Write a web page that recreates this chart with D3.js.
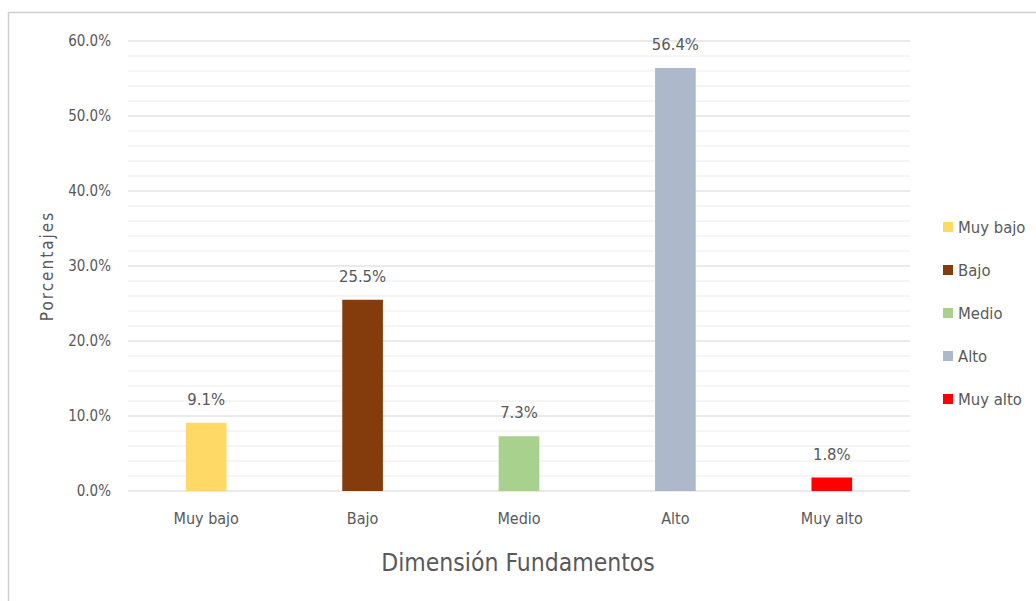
<!DOCTYPE html>
<html><head><meta charset="utf-8">
<script src="https://cdn.jsdelivr.net/npm/d3@7"></script>
<style>body{margin:0;background:#fff;}text{font-family:"DejaVu Sans Condensed","Liberation Sans",sans-serif;}</style>
</head><body>
<script>
const categories = ["Muy bajo","Bajo","Medio","Alto","Muy alto"];
const values = [9.1, 25.5, 7.3, 56.4, 1.8];
const valueLabels = ["9.1%","25.5%","7.3%","56.4%","1.8%"];
const colors = ["#FFD966","#843C0C","#A9D18E","#ADB9CA","#FF0000"];
const yTicks = [0,10,20,30,40,50,60];
const yTickLabels = ["0.0%","10.0%","20.0%","30.0%","40.0%","50.0%","60.0%"];
const minorTicks = d3.range(0, 61, 2);
const xTitle = "Dimensión Fundamentos";
const yTitle = "Porcentajes";

const W = 1036, H = 601;
const svg = d3.select("body").append("svg").attr("width", W).attr("height", H);
// outer frame (top & left visible)
svg.append("line").attr("x1",8.5).attr("x2",8.5).attr("y1",12).attr("y2",H).attr("stroke","#d0d0d0").attr("stroke-width",1.5);
svg.append("line").attr("x1",8).attr("x2",W).attr("y1",12.5).attr("y2",12.5).attr("stroke","#d0d0d0").attr("stroke-width",1.5);

const x = d3.scaleBand().domain(categories).range([128, 910]).paddingInner(0.74).paddingOuter(0.37);
const y = d3.scaleLinear().domain([0, 60]).range([491, 41]);

const g = svg.append("g");
// minor grid
g.selectAll("line.minor").data(minorTicks.filter(d => d % 10 !== 0)).join("line")
  .attr("x1",128).attr("x2",910).attr("y1",d=>y(d)).attr("y2",d=>y(d))
  .attr("stroke","#ececec").attr("stroke-width",1);
// major grid
g.selectAll("line.major").data(yTicks).join("line")
  .attr("x1",128).attr("x2",910).attr("y1",d=>y(d)).attr("y2",d=>y(d))
  .attr("stroke","#d6d6d6").attr("stroke-width",1.2);

// y axis labels via d3 axis
const yAxis = d3.axisLeft(y).tickValues(yTicks).tickFormat((d,i)=>yTickLabels[i]).tickSize(0).tickPadding(0);
const ya = svg.append("g").attr("transform","translate(111,0)").call(yAxis);
ya.select(".domain").remove();
ya.selectAll("text").attr("fill","#595959").style("font-size","15px");

// bars
g.selectAll("rect.bar").data(values).join("rect")
  .attr("x",(d,i)=>x(categories[i])).attr("width",x.bandwidth())
  .attr("y",d=>y(d)).attr("height",d=>y(0)-y(d))
  .attr("fill",(d,i)=>colors[i]);
// value labels
g.selectAll("text.val").data(values).join("text")
  .attr("x",(d,i)=>x(categories[i])+x.bandwidth()/2).attr("y",d=>y(d)-18)
  .attr("text-anchor","middle").attr("fill","#595959").style("font-size","16.5px")
  .text((d,i)=>valueLabels[i]);

// x axis labels
const xAxis = d3.axisBottom(x).tickSize(0).tickPadding(0);
const xa = svg.append("g").attr("transform","translate(0,513)").call(xAxis);
xa.select(".domain").remove();
xa.selectAll("text").attr("fill","#595959").style("font-size","16px");

// axis titles
svg.append("text").attr("x",518).attr("y",571).attr("text-anchor","middle")
  .attr("fill","#595959").style("font-size","24.5px").text(xTitle);
svg.append("text").attr("transform","translate(53,266) rotate(-90)").attr("text-anchor","middle")
  .attr("fill","#595959").style("font-size","17px").style("letter-spacing","2px").text(yTitle);

// legend
const leg = svg.append("g").selectAll("g").data(categories).join("g")
  .attr("transform",(d,i)=>`translate(943,${226 + i*43})`);
leg.append("rect").attr("x",0).attr("y",-4).attr("width",10).attr("height",10).attr("fill",(d,i)=>colors[i]);
leg.append("text").attr("x",15).attr("y",7).attr("fill","#595959").style("font-size","16.5px").text(d=>d);
</script>
</body></html>
